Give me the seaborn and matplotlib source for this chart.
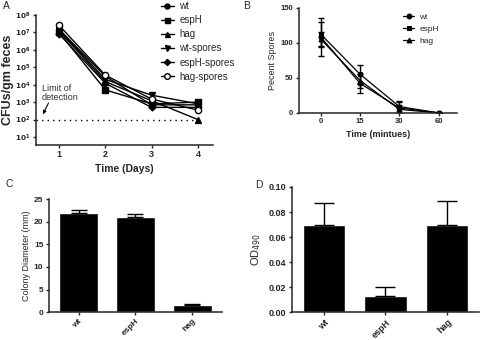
import numpy as np
import pandas as pd
import seaborn as sns
import matplotlib
matplotlib.use("Agg")
import matplotlib.pyplot as plt
from matplotlib.ticker import FixedLocator, FuncFormatter

sns.set_style("ticks")
plt.rcParams["font.family"] = ["Liberation Sans", "DejaVu Sans"]

# =============================================================================
# Data
# =============================================================================

# panel A - CFUs per gm feces
days = [1, 2, 3, 4]
strains_a = ["wt", "espH", "hag", "wt-spores", "espH-spores", "hag-spores"]
cfu_wt = [1.5e7, 3.0e4, 7.0e2, 7.0e2]
cfu_esph = [1.0e7, 5.0e3, 8.0e2, 1.0e3]
cfu_hag = [1.2e7, 1.5e4, 1.2e3, 1.0e2]
cfu_wt_spores = [1.4e7, 2.0e4, 2.5e3, 8.0e2]
cfu_esph_spores = [8.0e6, 1.2e4, 5.0e2, 5.0e2]
cfu_hag_spores = [2.5e7, 3.5e4, 1.5e3, 3.5e2]
detection_limit = 1e2

# panel B - percent spores
minutes = ["0", "15", "30", "60"]
strains_b = ["wt", "espH", "hag"]
spores_wt = [108, 42, 7, 0]
spores_wt_err = [27, 14, 8, 0]
spores_esph = [112, 55, 9, 0]
spores_esph_err = [18, 14, 8, 0]
spores_hag = [105, 46, 5, 0]
spores_hag_err = [10, 10, 6, 0]

# panel C - colony diameter
bar_strains = ["wt", "espH", "hag"]
diameter = [22.0, 21.0, 1.6]
diameter_err = [0.7, 0.8, 0.15]

# panel D - OD490
od = [0.070, 0.013, 0.070]
od_err = [0.017, 0.007, 0.019]

# =============================================================================
# Layout
# =============================================================================

fig = plt.figure(figsize=(4.8, 3.4), dpi=100)
ax_a = fig.add_axes([0.075, 0.574, 0.369, 0.382])
ax_b = fig.add_axes([0.623, 0.668, 0.329, 0.309])
ax_c = fig.add_axes([0.102, 0.082, 0.360, 0.332])
ax_d = fig.add_axes([0.608, 0.082, 0.390, 0.368])

for ax in (ax_a, ax_b, ax_c, ax_d):
    sns.despine(ax=ax)
    for s in ("left", "bottom"):
        ax.spines[s].set_linewidth(1.1)
    ax.tick_params(width=1.0, length=2.5, pad=1.5)

# =============================================================================
# Panel A
# =============================================================================

series_a = [cfu_wt, cfu_esph, cfu_hag, cfu_wt_spores, cfu_esph_spores, cfu_hag_spores]
markers_a = ["o", "s", "^", "v", "D", "o"]
faces_a = ["black"] * 5 + ["white"]
sizes_a = [4, 4, 4, 4, 3.5, 4.5]

handles = []
for name, vals, mk, fc, ms in zip(strains_a, series_a, markers_a, faces_a, sizes_a):
    df = pd.DataFrame({"Day": days, "CFU": vals})
    sns.lineplot(data=df, x="Day", y="CFU", ax=ax_a, color="black", lw=1.0,
                 marker=mk, markersize=ms, markerfacecolor=fc,
                 markeredgecolor="black", markeredgewidth=1.0)
    handles.append(ax_a.lines[-1])

ax_a.plot([0.5, 4], [detection_limit, detection_limit], color="black",
          lw=1.0, linestyle=(0, (1, 3)))

ax_a.set_yscale("log")
ax_a.set_ylim(10 ** 0.55, 1e8)
ax_a.set_xlim(0.5, 4.33)
ax_a.yaxis.set_major_locator(FixedLocator([10.0 ** k for k in range(1, 9)]))
ax_a.yaxis.set_minor_locator(FixedLocator([]))
ax_a.yaxis.set_major_formatter(
    FuncFormatter(lambda v, p: r"$\mathbf{10^{%d}}$" % round(np.log10(v))))
ax_a.set_xticks(days)
ax_a.tick_params(axis="y", labelsize=5.2)
ax_a.tick_params(axis="x", labelsize=6.5)
for lab in ax_a.get_xticklabels():
    lab.set_fontweight("bold")
ax_a.set_xlabel("Time (Days)", fontsize=7.5, fontweight="bold", labelpad=3)
ax_a.set_ylabel("CFUs/gm feces", fontsize=9, fontweight="bold", labelpad=1)

ax_a.text(0.63, 10 ** 3.55, "Limit of\ndetection", fontsize=6.5,
          color="#333333", va="center", ha="left", linespacing=1.0)
ax_a.annotate("", xy=(0.65, 10 ** 2.3), xytext=(0.77, 10 ** 2.95),
              arrowprops=dict(arrowstyle="-|>", color="black", lw=0.8,
                              mutation_scale=5, shrinkA=0, shrinkB=0))

fig.legend(handles, strains_a, loc="upper left",
           bbox_to_anchor=(157 / 480, 1.008), frameon=False, fontsize=7,
           handlelength=1.3, handletextpad=0.6, labelspacing=0.42,
           borderaxespad=0, markerscale=0.9)

# =============================================================================
# Panel B
# =============================================================================

pos_b = np.arange(len(minutes))
series_b = [(spores_wt, spores_wt_err, "o"), (spores_esph, spores_esph_err, "s"),
            (spores_hag, spores_hag_err, "^")]
handles_b = []
for name, (vals, err, mk) in zip(strains_b, series_b):
    df = pd.DataFrame({"pos": pos_b, "pct": vals})
    sns.lineplot(data=df, x="pos", y="pct", ax=ax_b, color="black", lw=0.9,
                 marker=mk, markersize=3.5, markeredgecolor="black")
    handles_b.append(ax_b.lines[-1])
    ax_b.errorbar(pos_b, vals, yerr=err, fmt="none", ecolor="black",
                  elinewidth=1.0, capsize=2.5, capthick=1.0)

ax_b.set_xlim(-0.56, 3.47)
ax_b.set_ylim(0, 150)
ax_b.set_xticks(pos_b)
ax_b.set_xticklabels(minutes)
ax_b.set_yticks([0, 50, 100, 150])
ax_b.tick_params(labelsize=5.5)
for lab in ax_b.get_xticklabels() + ax_b.get_yticklabels():
    lab.set_fontweight("bold")
ax_b.set_xlabel("Time (mintues)", fontsize=6.5, fontweight="bold", labelpad=3)
ax_b.set_ylabel("Pecent Spores", fontsize=6.5, labelpad=3)
ax_b.legend(handles_b, strains_b, loc="upper left",
            bbox_to_anchor=(0.64, 0.98), frameon=False, fontsize=6,
            handlelength=1.3, handletextpad=0.6, labelspacing=0.5,
            borderaxespad=0)

# =============================================================================
# Panel C
# =============================================================================

sns.barplot(x=bar_strains, y=diameter, ax=ax_c, color="black", width=0.68,
            saturation=1)
ax_c.errorbar(np.arange(3), diameter, yerr=[np.zeros(3), diameter_err],
              fmt="none", ecolor="black", elinewidth=1.0, capsize=6,
              capthick=1.0)
ax_c.set_xlim(-0.52, 2.52)
ax_c.set_ylim(0, 25)
ax_c.set_yticks([0, 5, 10, 15, 20, 25])
ax_c.tick_params(labelsize=6)
ax_c.set_xticks(np.arange(3))
ax_c.set_xticklabels(bar_strains, rotation=45, ha="right",
                     rotation_mode="anchor")
for lab in ax_c.get_xticklabels() + ax_c.get_yticklabels():
    lab.set_fontweight("bold")
ax_c.set_ylabel("Colony Diameter (mm)", fontsize=6.5, labelpad=2)

# =============================================================================
# Panel D
# =============================================================================

sns.barplot(x=bar_strains, y=od, ax=ax_d, color="black", width=0.69,
            saturation=1)
ax_d.errorbar(np.arange(3), od, yerr=[np.zeros(3), od_err], fmt="none",
              ecolor="black", elinewidth=1.0, capsize=7, capthick=1.0)
ax_d.set_xlim(-0.52, 2.52)
ax_d.set_ylim(0, 0.10)
ax_d.set_yticks([0.0, 0.02, 0.04, 0.06, 0.08, 0.10])
ax_d.set_yticklabels(["0.00", "0.02", "0.04", "0.06", "0.08", "0.10"])
ax_d.tick_params(labelsize=6.5)
ax_d.set_xticks(np.arange(3))
ax_d.set_xticklabels(bar_strains, rotation=45, ha="right",
                     rotation_mode="anchor")
for lab in ax_d.get_xticklabels() + ax_d.get_yticklabels():
    lab.set_fontweight("bold")
ax_d.set_ylabel(r"OD$_{490}$", fontsize=8, labelpad=4)

# panel letters
fig.text(3 / 480, 1 - 6 / 340, "A", fontsize=7.5, va="center")
fig.text(243 / 480, 1 - 6 / 340, "B", fontsize=7.5, va="center")
fig.text(6 / 480, 1 - 184 / 340, "C", fontsize=7.5, va="center")
fig.text(255 / 480, 1 - 185 / 340, "D", fontsize=7.5, va="center")

fig.savefig("out.png", dpi=100)
